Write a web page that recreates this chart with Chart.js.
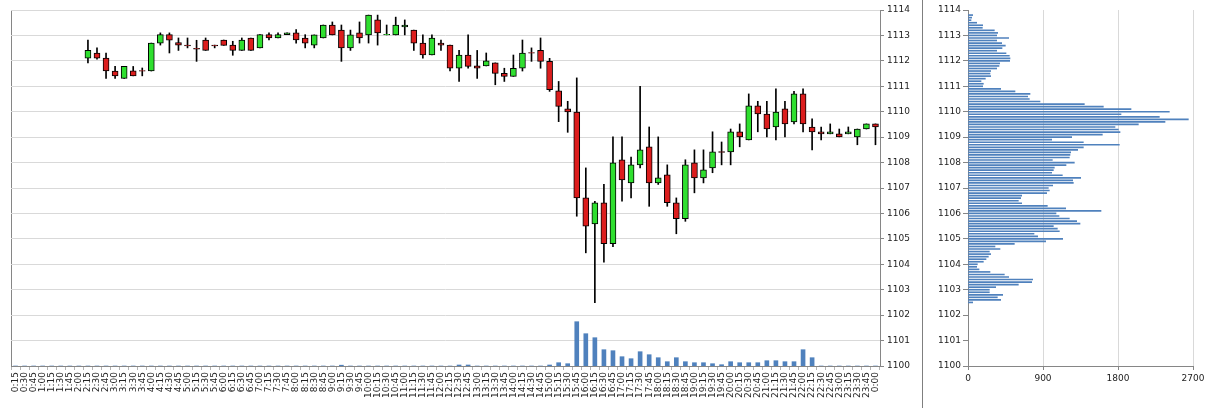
<!DOCTYPE html>
<html>
<head>
<meta charset="utf-8">
<script src="https://cdn.jsdelivr.net/npm/chart.js@4.4.1/dist/chart.umd.min.js"></script>
<style>
html, body { margin: 0; padding: 0; background: #fff; overflow: hidden; }
#left { position: absolute; left: 0; top: 0; }
#right { position: absolute; left: 924px; top: 0; }
#sep { position: absolute; left: 922px; top: 0; width: 1px; height: 408px; background: #7f7f7f; }
</style>
</head>
<body>
<canvas id="left" width="922" height="408"></canvas>
<div id="sep"></div>
<canvas id="right" width="287" height="408"></canvas>
<script>
// 15 minute bars, labelled by bar end time
var times = ["0:15","0:30","0:45","1:00","1:15","1:30","1:45","2:00","2:15","2:30","2:45","3:00",
  "3:15","3:30","3:45","4:00","4:15","4:30","4:45","5:00","5:15","5:30","5:45","6:00",
  "6:15","6:30","6:45","7:00","7:15","7:30","7:45","8:00","8:15","8:30","8:45","9:00",
  "9:15","9:30","9:45","10:00","10:15","10:30","10:45","11:00","11:15","11:30","11:45","12:00",
  "12:15","12:30","12:45","13:00","13:15","13:30","13:45","14:00","14:15","14:30","14:45","15:00",
  "15:15","15:30","15:45","16:00","16:15","16:30","16:45","17:00","17:15","17:30","17:45","18:00",
  "18:15","18:30","18:45","19:00","19:15","19:30","19:45","20:00","20:15","20:30","20:45","21:00",
  "21:15","21:30","21:45","22:00","22:15","22:30","22:45","23:00","23:15","23:30","23:45","0:00"];

var opens = [null,null,null,null,null,null,null,null,
  1112.11,1112.31,1112.11,1111.60,1111.31,1111.61,1111.62,1111.60,1112.70,1113.03,
  1112.72,1112.62,1112.49,1112.82,1112.62,1112.82,1112.62,1112.41,1112.90,1112.51,
  1113.03,1112.90,1113.03,1113.10,1112.90,1112.62,1112.90,1113.41,1113.21,1112.51,
  1113.10,1113.02,1113.61,1113.02,1113.02,1113.33,1113.21,1112.70,1112.23,1112.70,
  1112.62,1111.71,1112.23,1111.80,1111.80,1111.92,1111.51,1111.39,1111.71,1112.33,
  1112.41,1111.98,1110.82,1110.11,1109.99,1106.61,1105.59,1106.42,1104.81,1108.11,
  1107.20,1107.91,1108.62,1107.20,1107.52,1106.42,1105.79,1107.99,1107.40,1107.79,
  1108.43,1108.42,1109.21,1108.89,1110.23,1109.91,1109.40,1110.11,1109.60,1110.70,
  1109.40,1109.21,1109.13,1109.13,1109.13,1109.01,1109.32,1109.52];
var highs = [null,null,null,null,null,null,null,null,
  1112.82,1112.51,1112.31,1111.78,1111.78,1111.78,1111.72,1112.70,1113.10,1113.10,
  1112.90,1112.90,1112.81,1112.90,1112.62,1112.82,1112.77,1112.90,1112.90,1113.03,
  1113.10,1113.10,1113.10,1113.23,1113.03,1113.02,1113.41,1113.53,1113.41,1113.21,
  1113.53,1113.80,1113.80,1113.41,1113.72,1113.61,1113.21,1113.02,1113.02,1112.82,
  1112.62,1112.41,1113.02,1112.41,1112.31,1111.92,1111.71,1112.23,1112.82,1112.51,
  1112.90,1112.10,1111.19,1110.41,1111.33,1107.79,1106.48,1107.14,1109.01,1109.01,
  1108.22,1111.00,1109.40,1109.01,1107.91,1106.61,1108.11,1108.50,1108.50,1109.21,
  1108.81,1109.32,1109.52,1110.70,1110.41,1110.41,1110.90,1110.41,1110.80,1110.90,
  1109.72,1109.40,1109.52,1109.32,1109.40,1109.32,1109.52,1109.52];
var lows = [null,null,null,null,null,null,null,null,
  1111.92,1112.07,1111.31,1111.31,1111.31,1111.41,1111.41,1111.60,1112.62,1112.31,
  1112.41,1112.51,1111.98,1112.41,1112.51,1112.61,1112.22,1112.41,1112.41,1112.51,
  1112.82,1112.90,1113.03,1112.70,1112.51,1112.51,1112.90,1113.02,1111.98,1112.41,
  1112.70,1112.70,1112.62,1113.02,1113.02,1113.02,1112.41,1112.11,1112.23,1112.41,
  1111.60,1111.19,1111.71,1111.31,1111.80,1111.06,1111.19,1111.39,1111.60,1111.98,
  1111.71,1110.80,1109.61,1109.19,1105.89,1104.45,1102.49,1104.08,1104.69,1106.48,
  1106.61,1107.79,1106.28,1107.14,1106.28,1105.20,1105.69,1106.81,1107.20,1107.60,
  1107.91,1107.91,1108.62,1108.89,1109.21,1109.01,1108.89,1109.01,1109.52,1109.21,
  1108.50,1108.89,1109.13,1109.01,1109.13,1108.70,1109.32,1108.70];
var closes = [null,null,null,null,null,null,null,null,
  1112.41,1112.11,1111.60,1111.41,1111.78,1111.41,1111.59,1112.70,1113.03,1112.81,
  1112.62,1112.59,1112.46,1112.41,1112.59,1112.61,1112.41,1112.82,1112.41,1113.03,
  1112.90,1113.03,1113.10,1112.82,1112.70,1113.02,1113.41,1113.02,1112.51,1113.02,
  1112.90,1113.80,1113.10,1113.04,1113.41,1113.41,1112.70,1112.23,1112.90,1112.62,
  1111.71,1112.23,1111.78,1111.71,1112.00,1111.51,1111.39,1111.71,1112.31,1112.30,
  1111.98,1110.87,1110.21,1109.99,1106.61,1105.50,1106.42,1104.81,1107.99,1107.32,
  1107.91,1108.50,1107.20,1107.40,1106.42,1105.79,1107.91,1107.40,1107.71,1108.42,
  1108.40,1109.21,1109.01,1110.23,1109.91,1109.32,1109.99,1109.52,1110.70,1109.52,
  1109.21,1109.13,1109.21,1109.01,1109.21,1109.32,1109.52,1109.40];
var volumes = [0,0,0,0,0,0,0,0,0,0,0,0,0,0,0,0,0,0,0,0,0,0,0,0,0,0,0,0,0,0,0,0,0,0,0,0,
  80,0,0,0,0,0,0,0,0,0,0,0,0,
  100,100,0,0,0,0,0,0,0,0,
  100,330,230,4430,3230,2830,1630,1530,930,730,1430,1130,830,430,830,430,330,330,230,130,
  430,330,330,330,530,530,430,430,1630,830,
  0,0,0,0,0,0,0];

// volume at price
var profilePrices = [1113.8,1113.7,1113.6,1113.5,1113.4,1113.3,1113.2,1113.1,1113.0,
  1112.9,1112.8,1112.7,1112.6,1112.5,1112.4,1112.3,1112.2,1112.1,1112.0,
  1111.9,1111.8,1111.7,1111.6,1111.5,1111.4,1111.3,1111.2,1111.1,1111.0,
  1110.9,1110.8,1110.7,1110.6,1110.5,1110.4,1110.3,1110.2,1110.1,1110.0,
  1109.9,1109.8,1109.7,1109.6,1109.5,1109.4,1109.3,1109.2,1109.1,1109.0,
  1108.9,1108.8,1108.7,1108.6,1108.5,1108.4,1108.3,1108.2,1108.1,1108.0,
  1107.9,1107.8,1107.7,1107.6,1107.5,1107.4,1107.3,1107.2,1107.1,1107.0,
  1106.9,1106.8,1106.7,1106.6,1106.5,1106.4,1106.3,1106.2,1106.1,1106.0,
  1105.9,1105.8,1105.7,1105.6,1105.5,1105.4,1105.3,1105.2,1105.1,1105.0,
  1104.9,1104.8,1104.7,1104.6,1104.5,1104.4,1104.3,1104.2,1104.1,1104.0,
  1103.9,1103.8,1103.7,1103.6,1103.5,1103.4,1103.3,1103.2,1103.1,1103.0,
  1102.9,1102.8,1102.7,1102.6,1102.5];
var profileVolumes = [56,44,36,104,176,172,316,356,344,
  488,344,404,448,408,344,456,496,504,500,
  380,372,344,272,264,272,208,156,184,176,
  392,564,744,716,736,864,1396,1624,1956,2416,
  1836,2296,2644,2364,2044,1764,1804,1824,1612,1244,
  1004,1384,1816,1384,1316,1232,1224,1216,1012,1276,
  1176,1036,1024,1004,1132,1352,1256,1264,1016,964,
  976,944,644,632,604,644,952,1172,1596,1056,
  1092,1216,1304,1344,1024,1072,1096,792,836,1136,
  932,556,324,384,256,272,244,216,184,112,
  104,132,264,436,488,776,764,604,332,256,
  256,416,352,392,56];

var priceTicks = [1100, 1114];
var profileTicks = [0, 2700];

Chart.defaults.font.family = "'DejaVu Sans', sans-serif";
Chart.defaults.font.size = 9;
Chart.defaults.color = '#222';

var axisGray = '#868686';
var gridGray = '#d9d9d9';
var plain = function (v) { return String(v); };

var bodies = [], wicks = [], bodyColors = [];
for (var i = 0; i < times.length; i++) {
  if (opens[i] == null) {
    bodies.push(null); wicks.push(null); bodyColors.push('#000');
  } else {
    bodies.push([opens[i], closes[i]]);
    wicks.push([lows[i], highs[i]]);
    bodyColors.push(closes[i] >= opens[i] ? '#2fdf2f' : '#dc1d1d');
  }
}

var leftChart = new Chart(document.getElementById('left'), {
  type: 'bar',
  data: {
    labels: times,
    datasets: [
      { data: bodies, backgroundColor: bodyColors, borderColor: '#000', borderWidth: 1,
        borderSkipped: false, barThickness: 6, grouped: false, yAxisID: 'y' },
      { data: wicks, backgroundColor: '#000', barThickness: 1, grouped: false, yAxisID: 'y' },
      { data: volumes, backgroundColor: '#4f81bd', barThickness: 4, grouped: false, yAxisID: 'yv' }
    ]
  },
  options: {
    responsive: false,
    animation: false,
    layout: { padding: { left: 11, top: 10, right: 0, bottom: 0 } },
    plugins: { legend: { display: false }, tooltip: { enabled: false } },
    scales: {
      x: {
        offset: true,
        grid: {
          offset: true,
          color: function (c) { return c.index === 0 ? axisGray : 'rgba(0,0,0,0)'; },
          tickColor: '#b4b4b4', tickLength: 4
        },
        border: { display: true, color: axisGray },
        ticks: { autoSkip: false, maxRotation: 90, minRotation: 90, padding: 2 },
        afterFit: function (s) { s.height = 42; }
      },
      y: {
        position: 'right',
        min: priceTicks[0], max: priceTicks[1],
        ticks: { stepSize: 1, padding: 3, callback: plain },
        grid: { color: gridGray, tickColor: axisGray, tickLength: 4 },
        border: { color: axisGray },
        afterFit: function (s) { s.width = 42; }
      },
      yv: { display: false, min: 0, max: 35600 }
    }
  }
});

var profileData = profilePrices.map(function (p, i) { return { x: profileVolumes[i], y: p }; });

var rightChart = new Chart(document.getElementById('right'), {
  type: 'bar',
  data: {
    datasets: [
      { data: profileData, backgroundColor: '#4f81bd', barThickness: 1 }
    ]
  },
  options: {
    indexAxis: 'y',
    responsive: false,
    animation: false,
    layout: { padding: { left: 0, top: 10, right: 18, bottom: 0 } },
    plugins: { legend: { display: false }, tooltip: { enabled: false } },
    scales: {
      x: {
        type: 'linear',
        min: profileTicks[0], max: profileTicks[1],
        ticks: { stepSize: 900, padding: 3, callback: plain },
        grid: {
          color: function (c) { return c.tick && c.tick.value === 0 ? 'rgba(0,0,0,0)' : gridGray; },
          tickColor: axisGray, tickLength: 4
        },
        border: { color: axisGray },
        afterFit: function (s) { s.height = 42; }
      },
      y: {
        type: 'linear',
        offset: false,
        min: priceTicks[0], max: priceTicks[1],
        ticks: { stepSize: 1, padding: 2, callback: plain },
        grid: { offset: false, drawOnChartArea: false, tickColor: axisGray, tickLength: 5 },
        border: { color: axisGray },
        afterFit: function (s) { s.width = 44; }
      }
    }
  }
});
</script>
</body>
</html>
